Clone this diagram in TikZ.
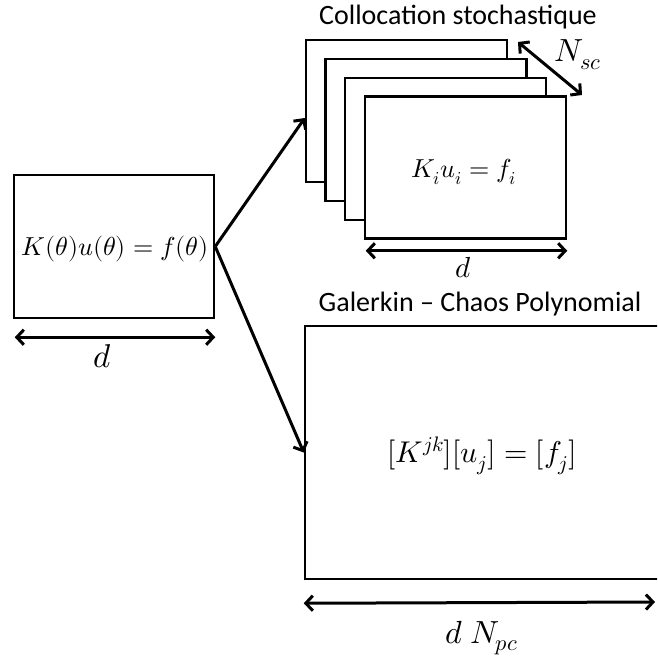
\documentclass[tikz,border=0pt]{standalone}
\usepackage{fontspec}
\usepackage{unicode-math}
\setmainfont{Carlito}
\setmathfont{Latin Modern Math}
\usetikzlibrary{arrows.meta}
\begin{document}
\begin{tikzpicture}[x=1pt,y=-1pt,
  box/.style={draw,line width=2.5pt,fill=white,inner sep=0pt},
  conn/.style={line width=3pt,-{Straight Barb[length=7pt,width=15pt]}},
  dimline/.style={line width=3pt,{Straight Barb[length=7pt,width=15pt]}-{Straight Barb[length=7pt,width=15pt]}},
  ttl/.style={font=\fontsize{28}{32}\selectfont,inner sep=0pt},
  eq/.style={font=\fontsize{26}{30}\selectfont,inner sep=0pt},
  lbl/.style={inner sep=0pt}]
\useasboundingbox (0,0) rectangle (657,658);
\clip (0,0) rectangle (657,658);
% left box
\node[box,minimum width=200pt,minimum height=143pt] (L) at (114,246.5) {};
\node[eq] (Leq) at (115,249) {$K(\theta)u(\theta)=f(\theta)$};
\draw[dimline] ([xshift=2pt,yshift=-18pt]L.south west) -- ([yshift=-18pt]L.south east);
\node[lbl,font=\fontsize{33}{36}\selectfont] (Ld) at (102,356) {$d$};
% stacked boxes
\node[box,minimum width=201pt,minimum height=142pt] (B1) at (406.5,111) {};
\node[box,minimum width=201pt,minimum height=142pt] (B2) at (426,130) {};
\node[box,minimum width=201pt,minimum height=142pt] (B3) at (445.5,149) {};
\node[box,minimum width=201pt,minimum height=142pt] (B4) at (465.5,167.5) {};
\node[eq] (Beq) at (464,172) {$K_i u_i = f_i$};
\node[ttl] (Btitle) at (458,17) {Collocation stochastique};
\draw[dimline] ([xshift=2pt,yshift=-11pt]B4.south west) -- ([yshift=-11pt]B4.south east);
\node[lbl,font=\fontsize{29}{32}\selectfont] (Bd) at (463,268) {$d$};
\coordinate (n1) at (518,42);
\coordinate (n2) at (582,95);
\draw[dimline] (n1) -- (n2);
\node[lbl,font=\fontsize{32}{36}\selectfont,anchor=base] (Nsc) at (578,62) {$N_{sc}$};
% big box
\node[box,minimum width=400pt,minimum height=253pt] (G) at (505,452.5) {};
\node[eq,font=\fontsize{30}{34}\selectfont] (Geq) at (482,456) {$[K^{jk}][u_j]=[f_j]$};
\node[ttl] (Gtitle) at (480,304) {Galerkin – Chaos Polynomial};
\coordinate (gr) at (655,602);
\draw[dimline] ([yshift=-23pt]G.south west) -- (gr);
\node[lbl,font=\fontsize{32}{36}\selectfont,anchor=base] (Gd) at (482,643) {$d\ N_{pc}$};
% connectors
\draw[conn] (L.east) -- ([yshift=-7pt]B1.west);
\draw[conn] (L.east) -- (G.west);
\end{tikzpicture}
\end{document}
